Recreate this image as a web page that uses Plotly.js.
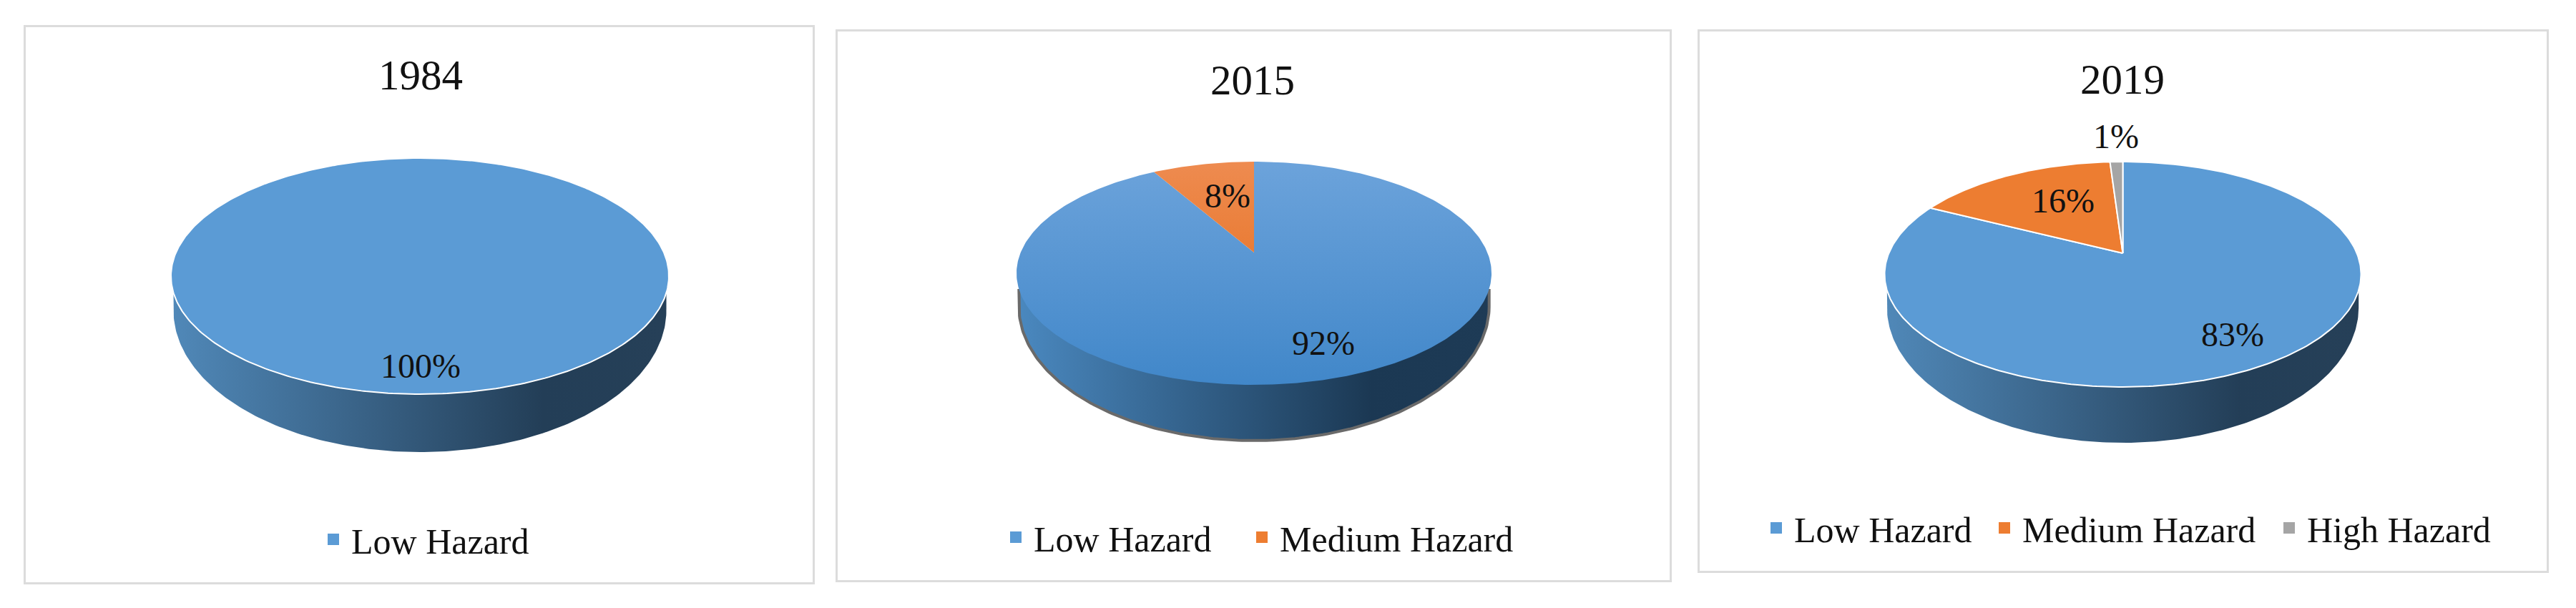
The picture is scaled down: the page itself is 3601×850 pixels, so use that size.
<!DOCTYPE html>
<html>
<head>
<meta charset="utf-8">
<script src="https://cdn.plot.ly/plotly-3.0.1.min.js"></script>
<style>
  body { margin: 0; background: #fff; }
  .panel { position: absolute; outline: 3px solid #dcdcdc; }
</style>
</head>
<body>
<div id="chart1984" class="panel"></div>
<div id="chart2015" class="panel"></div>
<div id="chart2019" class="panel"></div>
<script>
var years = ["1984", "2015", "2019"];
var hazardLabels = ["Low Hazard", "Medium Hazard", "High Hazard"];
var values1984 = [100];
var values2015 = [92, 8];
var values2019 = [83, 16, 1];

// flat office colours, only 2015 has the shaded look
var sliceColors = ["#5b9bd5", "#ed7d31", "#a5a5a5"];
var gradient2015 = [
  [[0, "#4187c9"], [1, "#6ca3db"]],
  [[0, "#e3670f"], [1, "#ee8b50"]],
];

// page pixels
var panels = [
  {
    id: "chart1984", values: values1984, year: years[0],
    left: 36, top: 38, right: 1136, bottom: 814,
    cx: 587, rx: 348, cy: 386, ry: 165, apexY: 386, wallBottom: 632,
    titleX: 588, titleY: 104, legendX: [441], legendY: 754, swatch: 18,
    labelX: [588], labelY: [516],
    wall: [[0, "#5088b8"], [0.75, "#233e57"], [1, "#264058"]],
    edge: "#ffffff", shadow: false, shaded: false,
  },
  {
    id: "chart2015", values: values2015, year: years[1],
    left: 1171, top: 44, right: 2334, bottom: 811,
    cx: 1753, rx: 332, cy: 382, ry: 156, apexY: 353, wallBottom: 616,
    titleX: 1751, titleY: 111, legendX: [1395, 1739], legendY: 751, swatch: 23,
    labelX: [1850, 1716], labelY: [484, 278],
    wall: [[0, "#4a88bf"], [0.75, "#1b3853"], [1, "#1e3b56"]],
    edge: null, shadow: true, shaded: true,
  },
  {
    id: "chart2019", values: values2019, year: years[2],
    left: 2376, top: 44, right: 3560, bottom: 798,
    cx: 2967.5, rx: 333, cy: 383.5, ry: 157.5, apexY: 354, wallBottom: 619,
    titleX: 2967, titleY: 110, legendX: [2458, 2777, 3175], legendY: 738, swatch: 19,
    labelX: [3121, 2884, 2958], labelY: [472, 285, 195],
    wall: [[0, "#5088b8"], [0.75, "#233e57"], [1, "#264058"]],
    edge: "#ffffff", shadow: false, shaded: false,
  },
];

var serif = "Liberation Serif";
var perspective = 0.15; // the 3d tilt squeezes the angles near the back of the pie

// share of the pie (0-100) to a point on the top ellipse, ellipse is the unit circle here
function rimPoint(share) {
  var a = (share / 100) * 2 * Math.PI;
  var x = Math.sin(a);
  var y = Math.cos(a);
  var d = 1 + perspective * y;
  return [(x * Math.sqrt(1 - perspective * perspective)) / d, (y + perspective) / d];
}

function sliceTrace(p, from, to, i) {
  var xs = [];
  var ys = [];
  var whole = to - from >= 100;
  var apex = (p.cy - p.apexY) / p.ry;
  if (!whole) {
    xs.push(0);
    ys.push(apex);
  }
  for (var s = from; s < to; s += 0.25) {
    var pt = rimPoint(s);
    xs.push(pt[0]);
    ys.push(pt[1]);
  }
  var end = rimPoint(to);
  xs.push(end[0]);
  ys.push(end[1]);
  if (!whole) {
    xs.push(0);
    ys.push(apex);
  }
  var trace = {
    type: "scatter", mode: "lines", x: xs, y: ys, fill: "toself",
    fillcolor: sliceColors[i], showlegend: false, hoverinfo: "skip",
    line: p.edge ? { color: p.edge, width: 2 } : { width: 0, color: sliceColors[i] },
  };
  if (p.shaded) {
    trace.fillgradient = { type: "vertical", start: -1, stop: 1, colorscale: gradient2015[i] };
  }
  return trace;
}

// side of the disc, sits below the top face
function wallTrace(p) {
  var widthRatio = 0.99;
  var heightRatio = 1.2; // rounder than the top ellipse, that is how the reference bulges
  var startY = -Math.sqrt(1 - widthRatio * widthRatio);
  var centerY = -((p.wallBottom - p.cy) / p.ry - heightRatio);
  var xs = [-widthRatio];
  var ys = [startY];
  for (var deg = 180; deg <= 360; deg += 1) {
    var a = (deg * Math.PI) / 180;
    xs.push(widthRatio * Math.cos(a));
    ys.push(centerY + heightRatio * Math.sin(a));
  }
  xs.push(widthRatio);
  ys.push(startY);
  return {
    type: "scatter", mode: "lines", x: xs, y: ys, fill: "toself", showlegend: false,
    hoverinfo: "skip",
    fillgradient: { type: "horizontal", colorscale: p.wall },
    line: p.shadow ? { color: "#6a6a6a", width: 4 } : { color: "#ffffff", width: 0 },
  };
}

function drawPanel(p) {
  var w = p.right - p.left;
  var h = p.bottom - p.top;
  var div = document.getElementById(p.id);
  div.style.left = p.left + "px";
  div.style.top = p.top + "px";
  div.style.width = w + "px";
  div.style.height = h + "px";

  var traces = [wallTrace(p)];
  var from = 0;
  p.values.forEach((v, i) => {
    traces.push(sliceTrace(p, from, from + v, i));
    from += v;
  });

  // percent labels
  traces.push({
    type: "scatter", mode: "text", showlegend: false, hoverinfo: "skip",
    x: p.labelX.map((x) => (x - p.cx) / p.rx),
    y: p.labelY.map((y) => (p.cy - y) / p.ry),
    text: p.values.map((v) => v + "%"),
    textposition: "middle center",
    textfont: { family: serif, size: 48, color: "#111111" },
  });

  var layout = {
    width: w, height: h, margin: { l: 0, r: 0, t: 0, b: 0 },
    paper_bgcolor: "#ffffff", plot_bgcolor: "#ffffff",
    title: {
      text: p.year, font: { family: serif, size: 59, color: "#111111" },
      x: (p.titleX - p.left) / w, xanchor: "center",
      y: 1 - (p.titleY - p.top) / h, yanchor: "middle",
    },
    xaxis: {
      visible: false, fixedrange: true,
      range: [(p.left - p.cx) / p.rx, (p.right - p.cx) / p.rx],
    },
    yaxis: {
      visible: false, fixedrange: true,
      range: [(p.cy - p.bottom) / p.ry, (p.cy - p.top) / p.ry],
    },
    showlegend: true,
  };

  // legend swatches only, the slices have no usable legend key. every entry gets its own
  // legend because the gaps between entries differ from chart to chart
  p.values.forEach((v, i) => {
    var legendName = i === 0 ? "legend" : "legend" + (i + 1);
    traces.push({
      type: "scatter", mode: "markers", x: [null], y: [null], name: hazardLabels[i],
      legend: legendName,
      marker: { symbol: "square", size: p.swatch, color: sliceColors[i] },
    });
    layout[legendName] = {
      orientation: "h", xref: "paper", yref: "paper", xanchor: "left", yanchor: "middle",
      x: (p.legendX[i] - p.left) / w, y: 1 - (p.legendY - p.top) / h,
      font: { family: serif, size: 50, color: "#111111" },
      itemwidth: 40, bgcolor: "rgba(0,0,0,0)",
    };
  });

  Plotly.newPlot(p.id, traces, layout, { displayModeBar: false });
}

panels.forEach(drawPanel);
</script>
</body>
</html>
